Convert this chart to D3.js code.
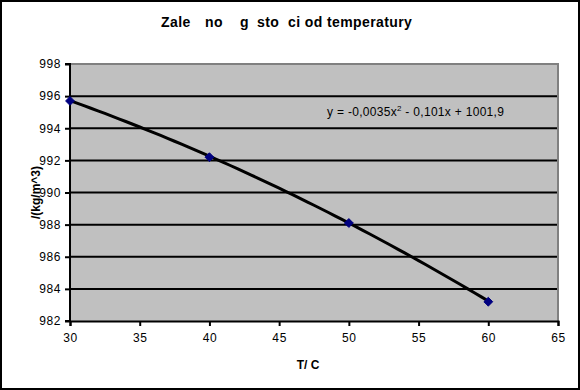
<!DOCTYPE html>
<html><head><meta charset="utf-8">
<script src="https://cdn.jsdelivr.net/npm/d3@7"></script>
<style>body{margin:0;background:#fff}svg{display:block}text{font-family:"Liberation Sans",Arial,sans-serif}</style>
</head><body>
<script>
const temps = [30, 40, 50, 60];
const density = [995.7, 992.2, 988.1, 983.2];
const trendCoef = [-0.0035, -0.101, 1001.9];
const xTicks = [30, 35, 40, 45, 50, 55, 60, 65];
const yTicks = [982, 984, 986, 988, 990, 992, 994, 996, 998];
const titleParts = ["Zale", "no", "g", "sto", "ci od temperatury"];
const xLabel = "T/ C";
const yLabel = "/(kg/m^3)";

const W = 580, H = 390;
const svg = d3.select("body").append("svg").attr("width", W).attr("height", H);
svg.append("rect").attr("x", 1).attr("y", 1).attr("width", W - 2).attr("height", H - 2)
  .attr("fill", "#fff").attr("stroke", "#000").attr("stroke-width", 2);

const x = d3.scaleLinear().domain([30, 65]).range([70, 558]);
const y = d3.scaleLinear().domain([982, 998]).range([321, 64]);

svg.append("rect").attr("x", x(30)).attr("y", y(998)).attr("width", x(65) - x(30)).attr("height", y(982) - y(998))
  .attr("fill", "#C0C0C0");

svg.append("g").selectAll("line").data(yTicks.filter(v => v > 982 && v < 998)).join("line")
  .attr("x1", x(30)).attr("x2", x(65)).attr("y1", d => y(d)).attr("y2", d => y(d))
  .attr("stroke", "#000").attr("stroke-width", 2);

svg.append("path")
  .attr("d", `M${x(30)},${y(998)}H${x(65)}V${y(982)}`)
  .attr("fill", "none").attr("stroke", "#808080").attr("stroke-width", 2);

const yAxis = svg.append("g").attr("transform", `translate(${x(30)},0)`)
  .call(d3.axisLeft(y).tickValues(yTicks).tickSize(5).tickPadding(4).tickFormat(d3.format("d")));
const xAxis = svg.append("g").attr("transform", `translate(0,${y(982)})`)
  .call(d3.axisBottom(x).tickValues(xTicks).tickSize(5).tickPadding(7).tickFormat(d3.format("d")));
[yAxis, xAxis].forEach(a => {
  a.select(".domain").attr("stroke", "#000").attr("stroke-width", 2);
  a.selectAll(".tick line").attr("stroke", "#000").attr("stroke-width", 2);
  a.selectAll("text").attr("fill", "#000").attr("font-size", 12).attr("letter-spacing", 0.6)
    .attr("font-family", "Liberation Sans, Arial, sans-serif");
});
yAxis.select(".domain").attr("d", `M-5,${y(982)}H0V${y(998)}H-5`);

// trendline
const trend = d3.range(30, 60.01, 0.5).map(t => [t, trendCoef[0] * t * t + trendCoef[1] * t + trendCoef[2]]);
svg.append("path").datum(trend)
  .attr("d", d3.line().x(d => x(d[0])).y(d => y(d[1])))
  .attr("fill", "none").attr("stroke", "#000").attr("stroke-width", 3);

// markers
svg.append("g").selectAll("path").data(temps.map((t, i) => [t, density[i]])).join("path")
  .attr("transform", d => `translate(${x(d[0])},${y(d[1])})`)
  .attr("d", d3.symbol(d3.symbolDiamond2, 50))
  .attr("fill", "#000080").attr("stroke", "#000080").attr("stroke-width", 1);

const titleX = [161, 205, 240, 257, 288];
svg.append("g").selectAll("text").data(titleParts).join("text")
  .attr("x", (d, i) => titleX[i]).attr("y", 27)
  .attr("font-size", 14).attr("font-weight", "bold").attr("letter-spacing", 0.4).text(d => d);

svg.append("text").attr("x", 308).attr("y", 369).attr("text-anchor", "middle")
  .attr("font-size", 12).attr("font-weight", "bold").style("white-space", "pre").text(xLabel);

svg.append("text").attr("transform", `translate(40,${y(990)}) rotate(-90)`).attr("text-anchor", "middle")
  .attr("font-size", 12).attr("font-weight", "bold").text(yLabel);

const eq = svg.append("text").attr("x", 327).attr("y", 116).attr("font-size", 12).attr("letter-spacing", 0.3).attr("fill", "#000");
eq.append("tspan").text("y = -0,0035x");
eq.append("tspan").attr("dy", -5).attr("font-size", 8).text("2");
eq.append("tspan").attr("dy", 5).text(" - 0,101x + 1001,9");
</script>
</body></html>
